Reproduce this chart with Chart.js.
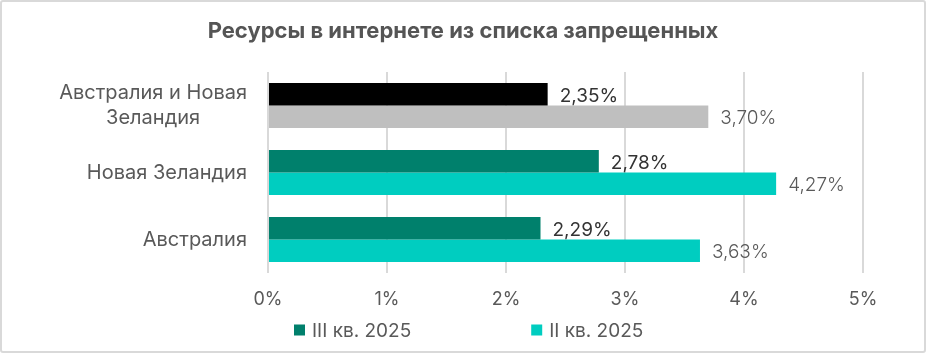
<!DOCTYPE html>
<html><head><meta charset="utf-8">
<script src="https://cdn.jsdelivr.net/npm/chart.js@4"></script>
<style>
html,body{margin:0;padding:0;background:#fff}
#wrap{position:relative;width:926px;height:353px}
canvas{position:absolute;left:0;top:0}
#frame{position:absolute;left:0;top:0;width:926px;height:353px;box-sizing:border-box;border:2px solid #d9d9d9;border-radius:3px;pointer-events:none}
</style></head>
<body>
<div id="wrap"><canvas id="c" width="926" height="353"></canvas><div id="frame"></div></div>
<script>
const titleText = 'Ресурсы в интернете из списка запрещенных';
const categories = [['Австралия и Новая', 'Зеландия'], ['Новая Зеландия'], ['Австралия']];
const seriesNames = ['III кв. 2025', 'II кв. 2025'];
const q3Values = [2.35, 2.78, 2.29];
const q2Values = [3.70, 4.27, 3.63];
const tickLabels = ['0%', '1%', '2%', '3%', '4%', '5%'];

// styles
const FONT = 'Inter';
const TEXT = '#595959';
const q3Colors = ['#000000', '#00806C', '#00806C'];
const q2Colors = ['#BFBFBF', '#00CDC0', '#00CDC0'];
const legendColors = ['#00806C', '#00CDC0'];

const fmt = v => v.toFixed(2).replace('.', ',') + '%';

const labelsPlugin = {
  id: 'customText',
  afterDatasetsDraw(chart) {
    const ctx = chart.ctx;
    ctx.save();
    // title
    ctx.font = `700 22px ${FONT}`;
    ctx.fillStyle = '#555555';
    ctx.textAlign = 'center';
    ctx.textBaseline = 'alphabetic';
    ctx.fillText(titleText, 463, 38);
    // value labels
    chart.data.datasets.forEach((ds, di) => {
      const meta = chart.getDatasetMeta(di);
      meta.data.forEach((el, i) => {
        ctx.font = di === 0 ? `400 19px ${FONT}` : `300 19px ${FONT}`;
        ctx.fillStyle = di === 0 ? '#333333' : TEXT;
        ctx.textAlign = 'left';
        ctx.textBaseline = 'middle';
        ctx.fillText(fmt(ds.data[i]), el.x + 12, el.y + 2);
      });
    });
    // category labels
    const ys = chart.scales.y;
    ctx.font = `400 20px ${FONT}`;
    ctx.fillStyle = TEXT;
    ctx.textBaseline = 'middle';
    ctx.textAlign = 'center';
    const right = chart.chartArea.left - 21;
    const lh = 25;
    categories.forEach((lines, i) => {
      const cy = ys.getPixelForValue(i);
      const maxW = Math.max(...lines.map(l => ctx.measureText(l).width));
      const cx = right - maxW / 2;
      const y0 = cy - (lines.length - 1) * lh / 2;
      lines.forEach((l, k) => ctx.fillText(l, cx, y0 + k * lh));
    });
    // legend
    ctx.font = `400 19px ${FONT}`;
    ctx.textAlign = 'left';
    const box = 11, gapTxt = 7, gapItem = 120;
    const widths = seriesNames.map(n => box + gapTxt + ctx.measureText(n).width);
    let x = 294;
    const ly = 330;
    seriesNames.forEach((n, i) => {
      ctx.fillStyle = legendColors[i];
      ctx.fillRect(x, ly - box / 2, box, box);
      ctx.fillStyle = TEXT;
      ctx.fillText(n, x + box + gapTxt, ly + 1);
      x += widths[i] + gapItem;
    });
    ctx.restore();
  }
};

new Chart(document.getElementById('c'), {
  type: 'bar',
  data: {
    labels: categories,
    datasets: [
      { label: seriesNames[0], data: q3Values, backgroundColor: q3Colors, categoryPercentage: 0.67, barPercentage: 1.0 },
      { label: seriesNames[1], data: q2Values, backgroundColor: q2Colors, categoryPercentage: 0.67, barPercentage: 1.0 }
    ]
  },
  options: {
    indexAxis: 'y',
    responsive: false,
    animation: false,
    devicePixelRatio: 1,
    layout: { padding: { left: 268, right: 63, top: 72, bottom: 0 } },
    plugins: {
      legend: { display: false },
      tooltip: { enabled: false },
      title: { display: false }
    },
    scales: {
      x: {
        min: 0, max: 5,
        ticks: { stepSize: 1, color: TEXT, font: { family: FONT, size: 18 }, padding: 16,
          callback: (v, i) => tickLabels[i] },
        grid: { color: '#D9D9D9', lineWidth: 2, drawTicks: false },
        border: { display: false },
        afterFit: s => { s.height = 80; }
      },
      y: {
        ticks: { display: false },
        grid: { display: false },
        border: { display: false },
        afterFit: s => { s.width = 0; }
      }
    }
  },
  plugins: [labelsPlugin]
});
</script>
</body></html>
